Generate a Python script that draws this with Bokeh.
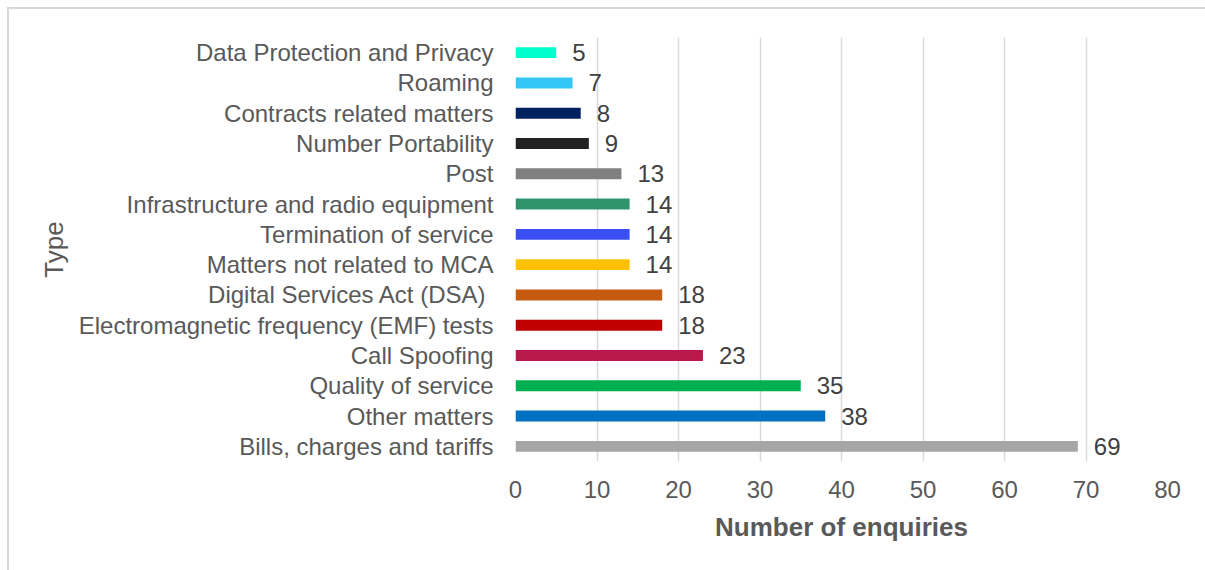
from bokeh.plotting import figure
from bokeh.models import ColumnDataSource, FactorRange, LabelSet, FixedTicker
from bokeh.core.properties import value
from bokeh.embed import file_html
from bokeh.resources import INLINE

categories = [
    "Bills, charges and tariffs",
    "Other matters",
    "Quality of service",
    "Call Spoofing",
    "Electromagnetic frequency (EMF) tests",
    "Digital Services Act (DSA) ",
    "Matters not related to MCA",
    "Termination of service",
    "Infrastructure and radio equipment",
    "Post",
    "Number Portability",
    "Contracts related matters",
    "Roaming",
    "Data Protection and Privacy",
]
values = [69, 38, 35, 23, 18, 18, 14, 14, 14, 13, 9, 8, 7, 5]
colors = [
    "#A6A6A6", "#0070C0", "#00B050", "#B9184A", "#C00000", "#C55A11",
    "#FFC000", "#3B4EF3", "#2F936B", "#808080", "#222222", "#002060",
    "#33C7F5", "#00FFCC",
]
x_ticks = [0, 10, 20, 30, 40, 50, 60, 70, 80]

src = ColumnDataSource(dict(cat=categories, val=values, col=colors,
                            lab=[str(v) for v in values]))

FONT = "Liberation Sans"

p = figure(
    y_range=FactorRange(factors=categories, range_padding=0),
    x_range=(0, 80),
    frame_width=652, frame_height=424,
    min_border_left=506, min_border_top=28, min_border_right=38, min_border_bottom=109,
    output_backend="svg", toolbar_location=None,
    x_axis_label="Number of enquiries", y_axis_label="Type",
)
p.styles = {"margin-left": "7px", "margin-top": "7px",
            "border-left": "2px solid #D9D9D9", "border-top": "2px solid #D9D9D9"}

p.hbar(y="cat", right="val", left=0, height=0.36, fill_color="col",
       line_color=None, source=src)

labels = LabelSet(x="val", y="cat", text="lab", source=src, x_offset=16,
                  text_baseline="middle", text_align="left",
                  text_font_size="24px", text_color="#404040", text_font=value(FONT))
p.add_layout(labels)

p.outline_line_color = None
p.background_fill_color = "white"
p.border_fill_color = "white"

p.ygrid.grid_line_color = None
p.xgrid.grid_line_color = "#D9D9D9"
p.xgrid.grid_line_width = 1.5
p.xgrid.ticker = FixedTicker(ticks=x_ticks)

p.xaxis.ticker = FixedTicker(ticks=x_ticks)
p.xaxis.axis_line_color = None
p.xaxis.major_tick_line_color = None
p.xaxis.minor_tick_line_color = None
p.xaxis.major_label_text_font = FONT
p.xaxis.major_label_text_font_size = "24px"
p.xaxis.major_label_text_color = "#595959"
p.xaxis.major_label_standoff = 13
p.xaxis.axis_label_text_font = FONT
p.xaxis.axis_label_text_font_size = "26px"
p.xaxis.axis_label_text_font_style = "bold"
p.xaxis.axis_label_text_color = "#595959"
p.xaxis.axis_label_standoff = 11

p.yaxis.axis_line_color = None
p.yaxis.major_tick_line_color = None
p.yaxis.minor_tick_line_color = None
p.yaxis.major_label_text_font = FONT
p.yaxis.major_label_text_font_size = "24px"
p.yaxis.major_label_text_color = "#595959"
p.yaxis.major_label_standoff = 16
p.yaxis.axis_label_text_font = FONT
p.yaxis.axis_label_text_font_size = "26px"
p.yaxis.axis_label_text_font_style = "normal"
p.yaxis.axis_label_text_color = "#595959"
p.yaxis.axis_label_standoff = 7

open("out.html", "w").write(file_html(p, INLINE))
